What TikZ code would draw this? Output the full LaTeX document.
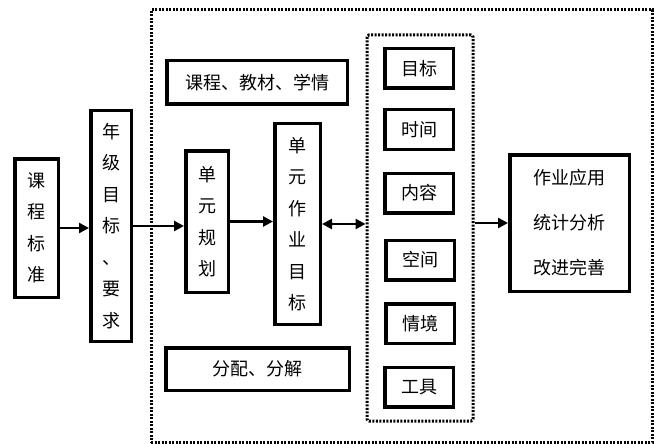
\documentclass[tikz,border=0pt]{standalone}
\usepackage{fontspec}
\newfontfamily\cjk{Noto Sans CJK SC}
\usetikzlibrary{arrows.meta}
\begin{document}
\begin{tikzpicture}[x=1pt,y=-1pt,
  box/.style={draw, line width=3.5pt, inner sep=0pt, align=center, font=\cjk\fontsize{18}{31.5}\selectfont},
  wbox/.style={box, font=\cjk\fontsize{18}{45}\selectfont},
  dotbox/.style={draw, line width=3pt, dash pattern=on 2pt off 1.5pt, inner sep=0pt},
  arr/.style={line width=2.5pt, -{Triangle[length=10pt,width=10pt]}},
  darr/.style={line width=2.5pt, {Triangle[length=10pt,width=10pt]}-{Triangle[length=10pt,width=10pt]}}]
\fill[white] (0,0) rectangle (654,444);
\useasboundingbox (0,0) rectangle (654,444);
\node[dotbox, minimum width=501pt, minimum height=432pt] (outer) at (401.5,226) {};
\node[dotbox, rounded corners=2pt, minimum width=106pt, minimum height=386pt] (inner) at (420,228) {};
\node[box, minimum width=43.5pt, minimum height=138.5pt] (ks) at (36.5,228) {课\\程\\标\\准};
\node[box, minimum width=40.5pt, minimum height=230.5pt] (nj) at (111,226) {年\\级\\目\\标\\、\\要\\求};
\node[box, minimum width=180.5pt, minimum height=43.5pt] (kc) at (257,82.5) {课程、教材、学情};
\node[box, minimum width=42.5pt, minimum height=141.5pt] (dy) at (207,221.5) {单\\元\\规\\划};
\node[box, minimum width=45.5pt, minimum height=200.5pt] (zy) at (297.5,224) {单\\元\\作\\业\\目\\标};
\node[box, minimum width=183.5pt, minimum height=42.5pt] (fp) at (257.5,369) {分配、分解};
\node[box, minimum width=68.5pt, minimum height=39.5pt] (r1) at (419,68.5) {目标};
\node[box, minimum width=68.5pt, minimum height=39.5pt] (r2) at (419,129.5) {时间};
\node[box, minimum width=68.5pt, minimum height=39.5pt] (r3) at (419,193) {内容};
\node[box, minimum width=68.5pt, minimum height=39.5pt] (r4) at (420,260) {空间};
\node[box, minimum width=68.5pt, minimum height=39.5pt] (r5) at (420,323.5) {情境};
\node[box, minimum width=68.5pt, minimum height=39.5pt] (r6) at (419,387) {工具};
\node[wbox, minimum width=119.5pt, minimum height=136.5pt] (yy) at (569.5,223) {作业应用\\统计分析\\改进完善};
\draw[arr] (ks.east) -- (ks.east -| nj.west);
\draw[arr] (nj.east) -- (nj.east -| dy.west);
\draw[arr] (dy.east) -- (dy.east -| zy.west);
\draw[darr] (zy.east) -- (zy.east -| inner.west);
\draw[arr] (inner.east |- yy.west) -- (yy.west);
\end{tikzpicture}
\end{document}
